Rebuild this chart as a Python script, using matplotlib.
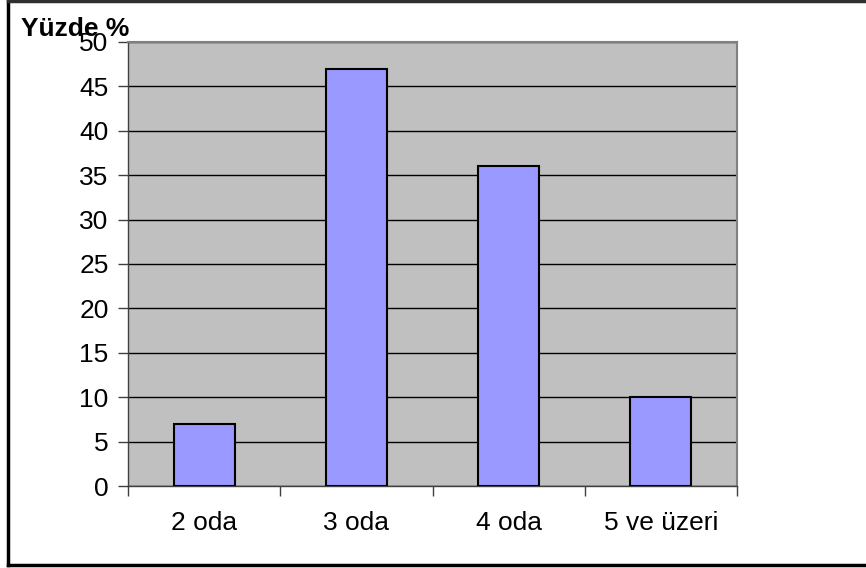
import matplotlib
matplotlib.use('Agg')
import matplotlib.pyplot as plt
from matplotlib.lines import Line2D

categories = ['2 oda', '3 oda', '4 oda', '5 ve üzeri']
values = [7, 47, 36, 10]
yticks = [0, 5, 10, 15, 20, 25, 30, 35, 40, 45, 50]

plt.rcParams['font.family'] = ['Liberation Sans', 'DejaVu Sans']

W, H = 866, 568
fig = plt.figure(figsize=(W / 100, H / 100), dpi=100)
fig.patch.set_facecolor('white')

# plot area in pixels: left 128, right 737, top 42, bottom 486
ax = fig.add_axes([128 / W, 1 - 486 / H, (737 - 128) / W, (486 - 42) / H])
ax.set_facecolor('#C0C0C0')

x = list(range(len(categories)))
ax.bar(x, values, width=0.4, color='#9999FF', edgecolor='black', linewidth=1.5, zorder=3)

ax.set_xlim(-0.5, len(categories) - 0.5)
ax.set_ylim(0, 50)
ax.set_yticks(yticks)
ax.set_yticklabels([str(v) for v in yticks], fontsize=19)
ax.yaxis.grid(True, color='black', linewidth=1, zorder=1)
ax.set_axisbelow(True)

# category labels between boundary ticks
ax.set_xticks([i - 0.5 for i in range(len(categories) + 1)])
ax.set_xticklabels([])
ax.set_xticks(x, minor=True)
ax.set_xticklabels(categories, minor=True, fontsize=19)
ax.tick_params(axis='x', which='minor', length=0, pad=18)
ax.tick_params(axis='x', which='major', length=7, width=1, direction='out', color='#404040')
ax.tick_params(axis='y', length=7, width=1, direction='out', color='#404040', pad=7)

for side in ['top', 'right']:
    ax.spines[side].set_color('#808080')
    ax.spines[side].set_linewidth(1.5)
for side in ['left', 'bottom']:
    ax.spines[side].set_color('#404040')
    ax.spines[side].set_linewidth(1)

fig.text(21 / W, 1 - 36 / H, 'Yüzde %', fontsize=19, fontweight='bold', ha='left', va='baseline')

# outer frame (left, top, bottom)
fig.add_artist(Line2D([8 / W, 8 / W], [1 - 1 / H, 1 - 565 / H], color='black', linewidth=2.5, transform=fig.transFigure))
fig.add_artist(Line2D([8 / W, 1], [1 - 1 / H, 1 - 1 / H], color='#303030', linewidth=2.5, transform=fig.transFigure))
fig.add_artist(Line2D([8 / W, 1], [1 - 565 / H, 1 - 565 / H], color='black', linewidth=2.5, transform=fig.transFigure))

fig.savefig('out.png', dpi=100)
